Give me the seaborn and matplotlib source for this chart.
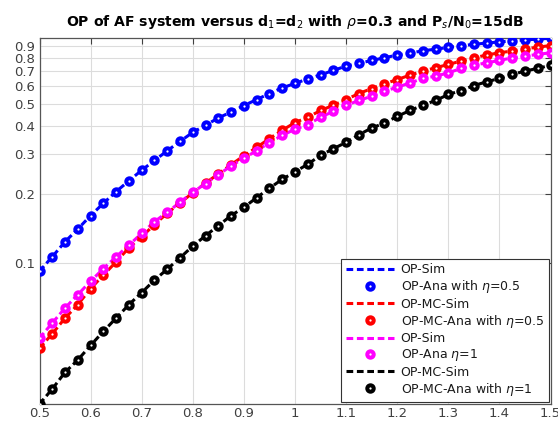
import numpy as np
import pandas as pd
import matplotlib
matplotlib.use("Agg")
import matplotlib.pyplot as plt
import seaborn as sns

# distance d1 = d2
d = [0.5 + 0.025 * k for k in range(41)]

op_eta05 = [0.0916, 0.106, 0.1235, 0.1405, 0.161, 0.1824, 0.2055, 0.2292, 0.2553, 0.2818,
            0.311, 0.342, 0.375, 0.403, 0.434, 0.461, 0.492, 0.523, 0.556, 0.589,
            0.616, 0.645, 0.672, 0.703, 0.7345, 0.755, 0.778, 0.799, 0.822, 0.838,
            0.858, 0.872, 0.888, 0.903, 0.916, 0.928, 0.939, 0.949, 0.958, 0.966, 0.974]
op_mc_eta05 = [0.0419, 0.0485, 0.0569, 0.0652, 0.0767, 0.088, 0.1007, 0.1162, 0.130, 0.147,
               0.165, 0.183, 0.203, 0.224, 0.246, 0.270, 0.2956, 0.3218, 0.352, 0.383,
               0.414, 0.437, 0.468, 0.4937, 0.523, 0.556, 0.585, 0.613, 0.641, 0.670,
               0.698, 0.722, 0.747, 0.773, 0.799, 0.822, 0.841, 0.856, 0.875, 0.890, 0.905]
op_eta1 = [0.0464, 0.0541, 0.0630, 0.0722, 0.0827, 0.094, 0.106, 0.1194, 0.1344, 0.1514,
           0.1665, 0.1844, 0.204, 0.223, 0.2436, 0.267, 0.2885, 0.311, 0.3377, 0.3636,
           0.387, 0.4055, 0.437, 0.464, 0.4937, 0.518, 0.541, 0.569, 0.593, 0.619,
           0.648, 0.663, 0.686, 0.717, 0.742, 0.759, 0.778, 0.799, 0.813, 0.827, 0.841]
op_mc_eta1 = [0.02377, 0.0277, 0.0328, 0.0372, 0.0431, 0.0497, 0.0569, 0.0652, 0.0737, 0.0836,
              0.0935, 0.1049, 0.1182, 0.1313, 0.1454, 0.161, 0.1751, 0.1932, 0.2125, 0.2329,
              0.251, 0.2715, 0.2966, 0.3176, 0.3386, 0.366, 0.3917, 0.412, 0.441, 0.468,
              0.4937, 0.518, 0.5505, 0.573, 0.603, 0.626, 0.648, 0.675, 0.698, 0.718, 0.74]

series = [
    (op_eta05, "blue", "OP-Sim", r"OP-Ana with $\eta$=0.5"),
    (op_mc_eta05, "red", "OP-MC-Sim", r"OP-MC-Ana with $\eta$=0.5"),
    (op_eta1, "magenta", "OP-Sim", r"OP-Ana $\eta$=1"),
    (op_mc_eta1, "black", "OP-MC-Sim", r"OP-MC-Ana with $\eta$=1"),
]

xticks = [0.5, 0.6, 0.7, 0.8, 0.9, 1.0, 1.1, 1.2, 1.3, 1.4, 1.5]
xticklabels = ["0.5", "0.6", "0.7", "0.8", "0.9", "1", "1.1", "1.2", "1.3", "1.4", "1.5"]
yticks = [0.1, 0.2, 0.3, 0.4, 0.5, 0.6, 0.7, 0.8, 0.9]
yticklabels = ["0.1", "0.2", "0.3", "0.4", "0.5", "0.6", "0.7", "0.8", "0.9"]

sns.set_style("whitegrid")
plt.rcParams["font.family"] = ["DejaVu Sans"]
plt.rcParams["mathtext.fontset"] = "dejavusans"

fig = plt.figure(figsize=(5.58, 4.26), dpi=100)
ax = fig.add_axes([0.0708, 0.0516, 0.9158, 0.8585])

for vals, color, sim_label, ana_label in series:
    df = pd.DataFrame({"d": d, "op": vals})
    sns.lineplot(data=df, x="d", y="op", ax=ax, color=color, linewidth=2.2,
                 linestyle=(0, (2.2, 1.2)), label=sim_label, zorder=3)
    sns.lineplot(data=df, x="d", y="op", ax=ax, color=color, linestyle="none",
                 marker="o", markersize=4.6, markeredgewidth=2.9,
                 markerfacecolor="white", markeredgecolor=color,
                 label=ana_label, zorder=4)

ax.set_yscale("log")
all_vals = op_eta05 + op_mc_eta05 + op_eta1 + op_mc_eta1
ax.set_ylim(min(all_vals), max(all_vals))
ax.set_xlim(0.5, 1.5)

ax.set_xticks(xticks)
ax.set_xticklabels(xticklabels)
ax.set_yticks(yticks)
ax.set_yticklabels(yticklabels)
ax.yaxis.set_minor_locator(matplotlib.ticker.NullLocator())
ax.set_xlabel("")
ax.set_ylabel("")

ax.grid(True, color="#dcdcdc", linewidth=0.8)
ax.tick_params(axis="both", which="major", direction="in", length=4, width=0.8,
               colors="#404040", labelsize=9.5, top=True, right=True, pad=2)
ax.tick_params(axis="y", pad=3)
for sp in ax.spines.values():
    sp.set_visible(True)
    sp.set_color("#555555")
    sp.set_linewidth(0.9)

ax.set_title(r"OP of AF system versus d$_1$=d$_2$ with $\rho$=0.3 and P$_s$/N$_0$=15dB",
             fontsize=10.1, fontweight="bold", color="black", pad=9)

leg = ax.legend(loc="lower right", fontsize=9.0, handlelength=3.9, handletextpad=0.5,
                labelspacing=0.18, borderpad=0.35, borderaxespad=0.15,
                frameon=True, fancybox=False, framealpha=1.0, edgecolor="#333333")
leg.get_frame().set_linewidth(0.8)
leg.set_zorder(10)
for t in leg.get_texts():
    t.set_color("#1a1a1a")

fig.savefig("out.png", dpi=100)
